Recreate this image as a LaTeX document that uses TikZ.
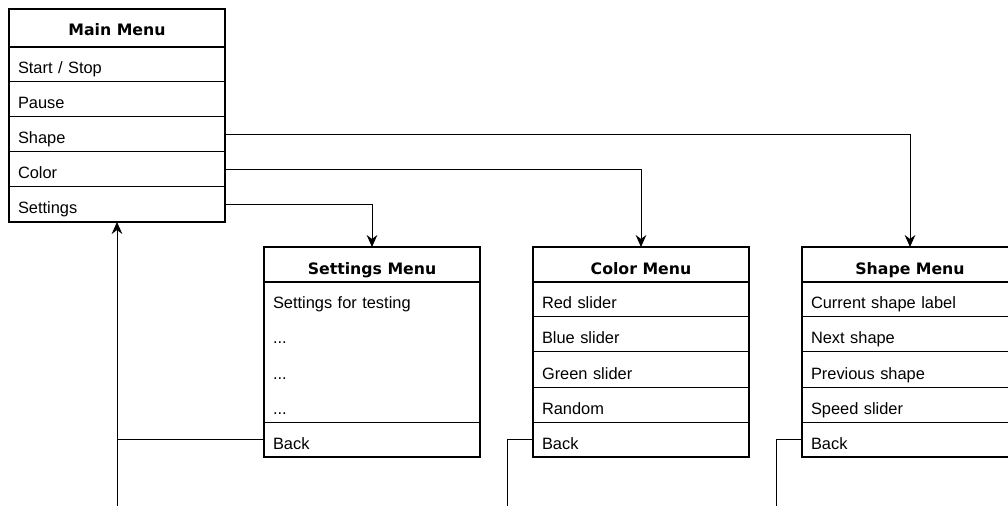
\documentclass[tikz,border=0pt]{standalone}
\usepackage{fontspec}
\setmainfont{Liberation Sans}
\newfontfamily\headfont{DejaVu Sans}
\usetikzlibrary{arrows.meta, positioning, calc}

% one screen pixel
\newdimen\pxu
\pxu=0.75pt

\tikzset{
    menuhead/.style={draw, line width=1.5pt, outer sep=0pt, minimum width=216\pxu, inner sep=0pt,
        text height=28\pxu, text depth=7\pxu, font=\headfont\bfseries\fontsize{11.8}{14}\selectfont},
    menuitem/.style={outer sep=0pt, minimum width=216\pxu, text width=198\pxu, inner xsep=9\pxu, inner ysep=0pt,
        text height=27\pxu, text depth=8\pxu, align=left, font=\fontsize{12.3}{14}\selectfont},
    itemline/.style={menuitem, draw, line width=0.75pt},
    frame/.style={line width=1.5pt},
    wire/.style={line width=0.75pt},
    link/.style={wire, -{Stealth[length=9pt, width=8pt, inset=3pt]}}
}

\begin{document}
\begin{tikzpicture}[x=0.75pt, y=-0.75pt]
                \clip (0,0) rectangle (1008,506);
                % Main menu
                \node[menuhead, anchor=north west, text height=27\pxu, text depth=11\pxu] (mainhead) at (9,9) {Main Menu};
                \node[itemline, below=0pt of mainhead] (mstart) {Start / Stop};
                \node[itemline, below=0pt of mstart] (mpause) {Pause};
                \node[itemline, below=0pt of mpause] (mshape) {Shape};
                \node[itemline, below=0pt of mshape] (mcolor) {Color};
                \node[itemline, below=0pt of mcolor] (msettings) {Settings};
                \draw[frame] (mainhead.north west) rectangle (msettings.south east);
                % Settings menu
                \node[menuhead, anchor=north west] (sethead) at (264,247) {Settings Menu};
                \node[menuitem, below=0pt of sethead] (stest) {Settings for testing};
                \node[menuitem, below=0pt of stest] (sdots1) {...};
                \node[menuitem, below=0pt of sdots1] (sdots2) {...};
                \node[menuitem, below=0pt of sdots2] (sdots3) {...};
                \node[itemline, below=0pt of sdots3] (sback) {Back};
                \draw[frame] (sethead.north west) rectangle (sback.south east);
                % Color menu
                \node[menuhead, anchor=north west] (colorhead) at (533,247) {Color Menu};
                \node[itemline, below=0pt of colorhead] (cred) {Red slider};
                \node[itemline, below=0pt of cred] (cblue) {Blue slider};
                \node[itemline, below=0pt of cblue] (cgreen) {Green slider};
                \node[itemline, below=0pt of cgreen] (crandom) {Random};
                \node[itemline, below=0pt of crandom] (cback) {Back};
                \draw[frame] (colorhead.north west) rectangle (cback.south east);
                % Shape menu
                \node[menuhead, anchor=north west] (shapehead) at (802,247) {Shape Menu};
                \node[itemline, below=0pt of shapehead] (hlabel) {Current shape label};
                \node[itemline, below=0pt of hlabel] (hnext) {Next shape};
                \node[itemline, below=0pt of hnext] (hprev) {Previous shape};
                \node[itemline, below=0pt of hprev] (hspeed) {Speed slider};
                \node[itemline, below=0pt of hspeed] (hback) {Back};
                \draw[frame] (shapehead.north west) rectangle (hback.south east);
                % Into the sub menus
                \draw[link] (mshape.east) -| (shapehead.north);
                \draw[link] (mcolor.east) -| (colorhead.north);
                \draw[link] (msettings.east) -| (sethead.north);
                % Back lines
                \coordinate (mainret) at ($(msettings.south)+(0,320)$);
                \coordinate (colorret) at ($(cback.west)+(-26,90)$);
                \coordinate (shaperet) at ($(hback.west)+(-26,90)$);
                \draw[link] (sback.west) -| (msettings.south);
                \draw[wire] (mainret) -- (msettings.south |- sback.west);
                \draw[wire] (cback.west) -| (colorret);
                \draw[wire] (hback.west) -| (shaperet);
            \end{tikzpicture}
\end{document}
